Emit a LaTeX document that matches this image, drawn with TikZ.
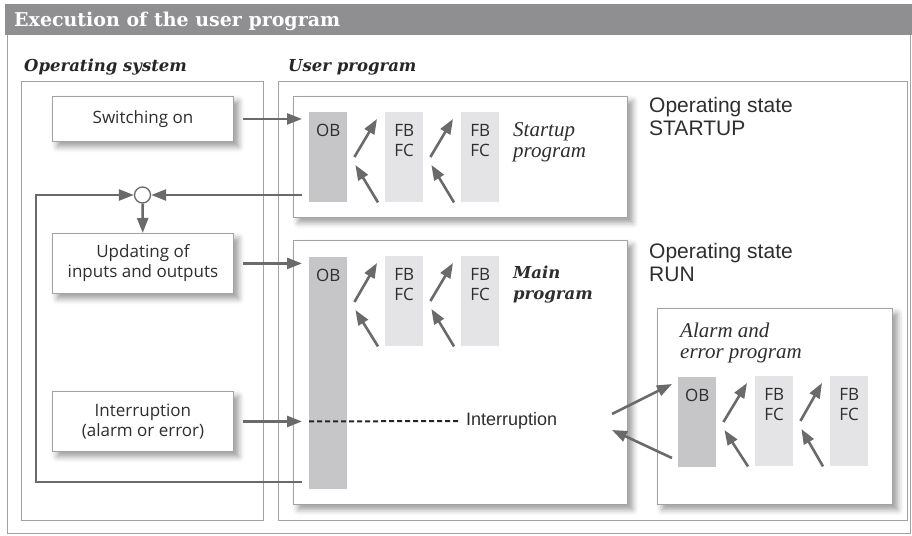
\documentclass[tikz,border=0pt]{standalone}
\usepackage{fontspec}
\setmainfont{DejaVu Serif}
\newfontfamily\kastenfont{Open Sans}
\newfontfamily\arialfont{Liberation Sans}
\newfontfamily\kursivfont{Liberation Serif}
\usetikzlibrary{arrows.meta,shadows.blur}

\definecolor{balken}{HTML}{8F8F91}
\definecolor{linie}{HTML}{A2A2A4}
\definecolor{pfeilgrau}{HTML}{6A6A6C}
\definecolor{obgrau}{HTML}{C6C6C8}
\definecolor{fbgrau}{HTML}{E4E4E6}
\definecolor{schrift}{HTML}{2E2E2E}

% Aufrufpfeile zwischen zwei Bausteinen
\newcommand{\aufruf}[2]{%
  \draw[pfeil] ([shift={(7,45)}]#1.north east) -- ([shift={(-8,7)}]#2.north west);
  \draw[pfeil] ([shift={(-7,0)}]#2.south west) -- ([shift={(8,53)}]#1.north east);
}

\begin{document}
\begin{tikzpicture}[x=1pt,y=-1pt,
    rahmen/.style={draw=linie, line width=0.9pt, anchor=north west, inner sep=0pt},
    kasten/.style={draw=linie, line width=0.9pt, fill=white, anchor=north west, minimum width=181pt,
      align=center, text=schrift, font=\kastenfont\fontsize{17}{20}\selectfont,
      blur shadow={shadow xshift=5pt, shadow yshift=-5pt, shadow blur radius=6pt, shadow opacity=40}},
    programm/.style={kasten, minimum width=334pt},
    block/.style={anchor=north west, minimum width=38pt, inner sep=0pt},
    blocktext/.style={anchor=north, yshift=-12pt, inner sep=0pt, align=center, text=schrift,
      font=\kastenfont\fontsize{17}{20}\selectfont},
    ob/.style={block, fill=obgrau, label={[blocktext]north:OB}},
    fb/.style={block, fill=fbgrau, minimum height=90pt, label={[blocktext]north:FB\\FC}},
    zustand/.style={anchor=north west, inner sep=0pt, align=left, text=schrift,
      font=\arialfont\fontsize{21}{23}\selectfont},
    kursiv/.style={anchor=north west, inner sep=0pt, align=left, text=schrift,
      font=\kursivfont\itshape\fontsize{21}{21}\selectfont},
    ueberschrift/.style={anchor=base west, inner sep=0pt, text=black!85,
      font=\bfseries\itshape\fontsize{16.5}{19}\selectfont},
    pfeil/.style={draw=pfeilgrau, line width=2.6pt, -{Triangle[length=15pt,width=11pt]}}
  ]
  \useasboundingbox (0,0) rectangle (912,535);

  % Rahmen und Titel
  \draw[linie, line width=0.9pt] (7,5) rectangle (910.5,533.5);
  \fill[balken] (5,4) rectangle (912,35);
  \node[anchor=base west, inner sep=0pt, text=white, font=\bfseries\fontsize{19}{22}\selectfont]
    (titel) at (14,27) {Execution of the user program};

  \node[ueberschrift] (bs) at (24,71) {Operating system};
  \node[ueberschrift] (anw) at (288,71) {User program};
  \node[rahmen, minimum width=242pt, minimum height=439pt] (bsrahmen) at (21,81) {};
  \node[rahmen, minimum width=629pt, minimum height=439pt] (anwrahmen) at (278,81) {};

  % Betriebssystem
  \node[kasten, minimum height=45pt] (ein) at (52,96) {Switching on};
  \node[kasten, minimum height=60pt] (pae) at (52,233) {Updating of\\inputs and outputs};
  \node[kasten, minimum height=60pt] (unt) at (52,391) {Interruption\\(alarm or error)};
  \node[circle, draw=pfeilgrau, line width=1.3pt, fill=white, minimum size=16pt, inner sep=0pt]
    (knoten) at (142.5,195) {};

  % Anlaufprogramm
  \node[programm, minimum height=121pt] (anlauf) at (293,96) {};
  \node[ob, minimum height=90pt] (ob1) at (309,112) {};
  \node[fb] (fb1a) at (385,112) {};
  \node[fb] (fb1b) at (461,112) {};
  \node[kursiv] (anlauftext) at (513,122) {Startup\\program};
  \node[zustand] (anlaufzst) at (649,97) {Operating state\\STARTUP};

  % Hauptprogramm
  \node[programm, minimum height=264pt] (haupt) at (293,240) {};
  \node[ob, minimum height=232pt] (ob2) at (309,257) {};
  \node[fb] (fb2a) at (385,256) {};
  \node[fb] (fb2b) at (461,256) {};
  \node[anchor=north west, inner sep=0pt, align=left, text=schrift,
    font=\bfseries\itshape\fontsize{16.5}{21}\selectfont] (haupttext) at (513,266) {Main\\program};
  \node[zustand] (hauptzst) at (649,243) {Operating state\\RUN};

  % Alarm- und Fehlerprogramm
  \node[kasten, minimum width=235pt, minimum height=196pt] (alarm) at (657,308) {};
  \node[kursiv] (alarmtext) at (680,323) {Alarm and\\error program};
  \node[ob, minimum height=90pt] (ob3) at (678,377) {};
  \node[fb] (fb3a) at (755,376) {};
  \node[fb] (fb3b) at (830,376) {};

  \node[anchor=west, inner sep=0pt, text=schrift, font=\arialfont\fontsize{18}{20}\selectfont]
    (unttext) at (466,421) {Interruption};

  \coordinate (rueck) at (302,482);
  \coordinate (ecke) at (36,482);
  \coordinate (alarmein) at (612,414);
  \coordinate (alarmaus) at (612,430);

  % Verbindungen
  \draw[pfeil, shorten <=9pt, shorten >=7pt] (ein.east) -- (ob1.west |- ein.east);
  \draw[pfeil, shorten <=9pt, shorten >=7pt] (pae.east) -- (ob2.west |- pae.east);
  \draw[pfeil, shorten <=9pt, shorten >=7pt] (unt.east) -- (ob2.west |- unt.east);
  \draw[line width=2pt, dash pattern=on 5pt off 3pt, black!85] (ob2.west |- unt.east) -- ([xshift=-6pt]unttext.west);
  \draw[pfeil, shorten <=7pt] (ob1.west |- knoten) -- (knoten);
  \draw[pfeil] (rueck) -- (ecke) |- (knoten);
  \draw[pfeil] (knoten) -- (pae);
  \draw[pfeil] (alarmein) -- ([shift={(-6,7)}]ob3.north west);
  \draw[pfeil] ([shift={(-6,81)}]ob3.north west) -- (alarmaus);

  \aufruf{ob1}{fb1a}
  \aufruf{fb1a}{fb1b}
  \aufruf{ob2}{fb2a}
  \aufruf{fb2a}{fb2b}
  \aufruf{ob3}{fb3a}
  \aufruf{fb3a}{fb3b}
\end{tikzpicture}
\end{document}
